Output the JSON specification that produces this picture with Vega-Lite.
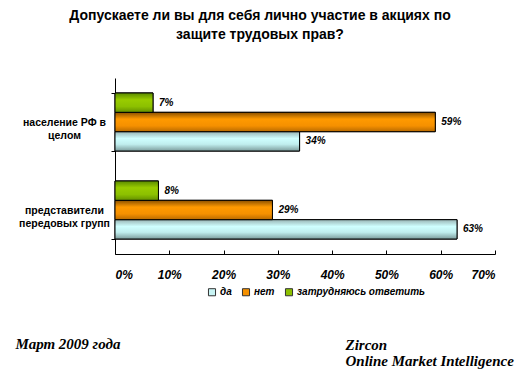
{
  "$schema": "https://vega.github.io/schema/vega-lite/v6.json",
  "width": 380,
  "height": 176,
  "autosize": "none",
  "padding": {"left": 115, "top": 78, "right": 28, "bottom": 132},
  "background": "white",
  "config": {"view": {"stroke": null}},
  "title": {
    "text": ["Допускаете ли вы для себя лично участие в акциях по", "защите трудовых прав?"],
    "font": "Liberation Sans", "fontSize": 14, "fontWeight": "bold", "color": "black",
    "anchor": "middle", "frame": "group", "dx": -45, "offset": 31, "lineHeight": 19
  },
  "data": {"values": [
    {"group": "население РФ в|целом", "answer": "затрудняюсь ответить", "value": 0.07},
    {"group": "население РФ в|целом", "answer": "нет", "value": 0.59},
    {"group": "население РФ в|целом", "answer": "да", "value": 0.34},
    {"group": "представители|передовых групп", "answer": "затрудняюсь ответить", "value": 0.08},
    {"group": "представители|передовых групп", "answer": "нет", "value": 0.29},
    {"group": "представители|передовых групп", "answer": "да", "value": 0.63}
  ]},
  "encoding": {
    "y": {
      "field": "group", "type": "nominal",
      "sort": ["население РФ в|целом", "представители|передовых групп"],
      "scale": {"paddingInner": 0.34, "paddingOuter": 0.17},
      "axis": {
        "labelExpr": "split(datum.label, '|')",
        "labelAlign": "center", "labelBaseline": "middle", "labelPadding": 47,
        "labelFont": "Liberation Sans", "labelFontSize": 10.5, "labelFontWeight": "bold", "labelColor": "black",
        "labelLineHeight": 13, "labelLimit": 200,
        "tickBand": "extent", "tickSize": 4, "tickColor": "black", "domainColor": "black",
        "title": ["Zircon", "Online Market Intelligence"],
        "titleAngle": 0, "titleX": 230, "titleY": 266, "titleAlign": "left", "titleBaseline": "middle",
        "titleFont": "Liberation Serif", "titleFontSize": 15, "titleFontWeight": "bold", "titleFontStyle": "italic",
        "titleLineHeight": 16, "titleColor": "black"
      }
    },
    "yOffset": {"field": "answer", "type": "nominal", "sort": ["затрудняюсь ответить", "нет", "да"], "scale": {"paddingInner": 0, "paddingOuter": 0}},
    "x": {
      "field": "value", "type": "quantitative",
      "scale": {"domain": [0, 0.7]},
      "axis": {
        "values": [0, 0.1, 0.2, 0.3, 0.4, 0.5, 0.6, 0.7], "format": ".0%", "grid": false,
        "labelFont": "Liberation Sans", "labelFontSize": 12, "labelFontWeight": "bold", "labelFontStyle": "italic", "labelColor": "black",
        "labelPadding": 19, "tickSize": -4, "tickColor": "black", "domainColor": "black",
        "title": "Март 2009 года", "titleX": -100, "titleY": 89, "titleAnchor": "start", "titleAlign": "left", "titleBaseline": "middle",
        "titleFont": "Liberation Serif", "titleFontSize": 15, "titleFontWeight": "bold", "titleFontStyle": "italic", "titleColor": "black"
      }
    }
  },
  "layer": [
    {
      "mark": {"type": "bar", "stroke": "black", "strokeWidth": 1},
      "encoding": {
        "color": {
          "field": "answer", "type": "nominal",
          "scale": {"domain": ["да", "нет", "затрудняюсь ответить"], "range": ["#c8f4f4", "#f59000", "#8cc000"]},
          "legend": {
            "orient": "none", "legendX": 92, "legendY": 209, "direction": "horizontal", "title": null,
            "symbolType": "square", "symbolSize": 50, "symbolStrokeColor": "#333", "symbolStrokeWidth": 1, "symbolOpacity": 1,
            "labelFont": "Liberation Sans", "labelFontSize": 10, "labelFontWeight": "bold", "labelFontStyle": "italic", "labelColor": "black",
            "columnPadding": 8, "labelOffset": 3
          }
        }
      }
    },
    {
      "transform": [{"filter": "datum.answer === 'да'"}],
      "mark": {"type": "bar", "stroke": "black", "strokeWidth": 1, "fill": {
        "gradient": "linear", "x1": 0, "y1": 0, "x2": 0, "y2": 1,
        "stops": [{"offset": 0, "color": "#98b4b4"}, {"offset": 0.35, "color": "#cfffff"}, {"offset": 0.65, "color": "#c0eeee"}, {"offset": 1, "color": "#7c9c9c"}]
      }}
    },
    {
      "transform": [{"filter": "datum.answer === 'нет'"}],
      "mark": {"type": "bar", "stroke": "black", "strokeWidth": 1, "fill": {
        "gradient": "linear", "x1": 0, "y1": 0, "x2": 0, "y2": 1,
        "stops": [{"offset": 0, "color": "#8a5000"}, {"offset": 0.35, "color": "#ff9a00"}, {"offset": 0.7, "color": "#f59000"}, {"offset": 1, "color": "#b86a00"}]
      }}
    },
    {
      "transform": [{"filter": "datum.answer === 'затрудняюсь ответить'"}],
      "mark": {"type": "bar", "stroke": "black", "strokeWidth": 1, "fill": {
        "gradient": "linear", "x1": 0, "y1": 0, "x2": 0, "y2": 1,
        "stops": [{"offset": 0, "color": "#5a8a00"}, {"offset": 0.35, "color": "#99cc00"}, {"offset": 0.7, "color": "#8cc000"}, {"offset": 1, "color": "#648f00"}]
      }}
    },
    {
      "mark": {"type": "text", "align": "left", "baseline": "middle", "dx": 6, "font": "Liberation Sans", "fontSize": 10, "fontWeight": "bold", "fontStyle": "italic", "color": "black"},
      "encoding": {"text": {"field": "value", "type": "quantitative", "format": ".0%"}}
    }
  ]
}
